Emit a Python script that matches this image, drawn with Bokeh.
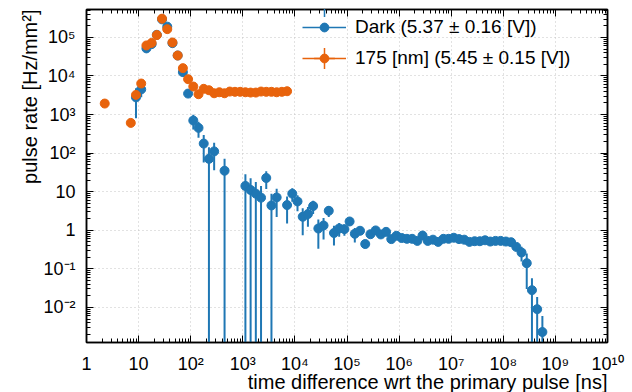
import numpy as np
from bokeh.plotting import figure
from bokeh.models import (Range1d, FixedTicker, CustomJSTickFormatter, LogAxis,
                          Legend, LegendItem, Title, ColumnDataSource)
from bokeh.embed import file_html
from bokeh.resources import INLINE

# ---------------- data (log10 of bin centre in ns, rate in Hz/mm^2) ----------------
dark_log_t = [0.95, 1.05, 1.15, 1.25, 1.35, 1.45, 1.55, 1.65, 1.75, 1.85, 1.95,
              2.05, 2.15, 2.25, 2.35, 2.45, 2.65,
              3.05, 3.15, 3.25, 3.35, 3.45, 3.55, 3.65, 3.85, 3.95,
              4.05, 4.15, 4.25, 4.35, 4.45, 4.55, 4.65, 4.75, 4.85, 4.95,
              5.05, 5.15, 5.25, 5.35, 5.45, 5.55, 5.65, 5.75, 5.85, 5.95,
              6.05, 6.15, 6.25, 6.35, 6.45, 6.55, 6.65, 6.75, 6.85, 6.95,
              7.05, 7.15, 7.25, 7.35, 7.45, 7.55, 7.65, 7.75, 7.85, 7.95,
              8.05, 8.15, 8.25, 8.35, 8.45, 8.55, 8.65, 8.75]
dark_rate = [2800, 4500, 5.2e4, 6.7e4, 1.17e5, 2.94e5, 1.9e5, 7.1e4, 3.4e4, 1.26e4, 3500,
             700, 452, 177, 71, 111, 35,
             14.1, 11.1, 8.9, 7.0, 22.7, 4.4, 7.1, 4.5, 8.9,
             5.6, 2.24, 2.63, 4.25, 1.11, 1.33, 3.2, 0.85, 1.11, 1.07,
             1.69, 0.81, 0.97, 0.44, 0.79, 0.99, 0.78, 0.91, 0.59, 0.72,
             0.63, 0.60, 0.60, 0.53, 0.73, 0.53, 0.57, 0.50, 0.60, 0.60,
             0.64, 0.59, 0.57, 0.50, 0.52, 0.52, 0.55, 0.51, 0.53, 0.53,
             0.51, 0.49, 0.37, 0.265, 0.14, 0.028, 0.009, 0.0023]
dark_err = [2000, 1700, 3000, 3000, 4000, 6000, 5000, 3000, 2000, 1200, 600,
            290, 200, 120, 72, 75, 36,
            14.3, 11.2, 9.0, 7.1, 11, 4.5, 4.9, 3.0, 3.4,
            2.5, 1.5, 1.4, 1.6, 0.78, 0.75, 1.0, 0.45, 0.43, 0.35,
            0.35, 0.33, 0.2, 0.1, 0.1, 0.1, 0.08, 0.08, 0.06, 0.05,
            0.04, 0.04, 0.04, 0.04, 0.04, 0.04, 0.04, 0.04, 0.04, 0.04,
            0.04, 0.04, 0.04, 0.04, 0.04, 0.04, 0.04, 0.04, 0.04, 0.04,
            0.04, 0.04, 0.07, 0.11, 0.11, 0.029, 0.0095, 0.0037]

uv_log_t = [0.35, 0.85, 0.95, 1.05, 1.15, 1.25, 1.35, 1.45, 1.55, 1.65, 1.75, 1.85, 1.95,
            2.05, 2.15, 2.25, 2.35, 2.45, 2.55, 2.65, 2.75, 2.85, 2.95,
            3.05, 3.15, 3.25, 3.35, 3.45, 3.55, 3.65, 3.75, 3.85]
uv_rate = [1930, 608, 3240, 6380, 6.2e4, 7.2e4, 1.15e5, 3.06e5, 1.64e5, 7.4e4, 3.4e4, 1.6e4, 8270,
           5330, 3370, 4650, 4280, 3570, 3790, 3570, 3950, 3890, 3890,
           3790, 3720, 3720, 3950, 3890, 3890, 3790, 3890, 4030]
uv_err = [150, 80, 300, 500, 2000, 2000, 3000, 5000, 4000, 2500, 1500, 800, 400,
          300, 200, 250, 220, 180, 190, 180, 200, 190, 190,
          190, 180, 180, 190, 190, 190, 180, 190, 190]

labels = ["Dark (5.37 \u00b1 0.16 [V])", "175 [nm] (5.45 \u00b1 0.15 [V])"]
x_title = "time difference wrt the primary pulse [ns]"
y_title = "pulse rate [Hz/mm\u00b2]"

x_major = [10.0 ** k for k in range(0, 11)]
x_minor = [m * 10.0 ** k for k in range(0, 10) for m in range(2, 10)]
y_major = [10.0 ** k for k in range(-2, 6)]
y_minor = [m * 10.0 ** k for k in range(-3, 6) for m in range(2, 10)]

BLUE = "#1f77b4"
ORANGE = "#e8630c"
FONT = "Liberation Sans"


def make_src(log_t, rate, err):
    t = 10.0 ** np.asarray(log_t)
    v = np.asarray(rate, dtype=float)
    e = np.asarray(err, dtype=float)
    lo = np.clip(v - e, 1e-9, None)
    hi = v + e
    return ColumnDataSource(dict(t=t, v=v, lo=lo, hi=hi))


p = figure(width=628, height=400, x_axis_type="log", y_axis_type="log",
           x_range=Range1d(1, 1e10), y_range=Range1d(1.23e-3, 5.3e5),
           output_backend="svg", toolbar_location=None,
           min_border_left=86, min_border_right=21, min_border_top=9, min_border_bottom=58)
p.background_fill_color = "white"
p.border_fill_color = "white"
p.outline_line_color = "black"
p.outline_line_width = 1.5

fmt = CustomJSTickFormatter(code="""
const e = Math.round(Math.log10(tick));
if (e == 0) return "1";
if (e == 1) return "10";
const sup = {"-":"\u207b","0":"\u2070","1":"\u00b9","2":"\u00b2","3":"\u00b3","4":"\u2074",
             "5":"\u2075","6":"\u2076","7":"\u2077","8":"\u2078","9":"\u2079"};
return "10" + String(e).split("").map(c => sup[c]).join("");
""")

xt = FixedTicker(ticks=x_major, minor_ticks=x_minor)
yt = FixedTicker(ticks=y_major, minor_ticks=y_minor)


def style_axis(ax, labels_on=True):
    ax.axis_line_color = "black"
    ax.axis_line_width = 1.5
    ax.major_tick_in = 7
    ax.major_tick_out = 0
    ax.minor_tick_in = 4
    ax.minor_tick_out = 0
    ax.major_tick_line_color = "black"
    ax.minor_tick_line_color = "black"
    if labels_on:
        ax.major_label_text_font = FONT
        ax.major_label_text_font_size = "18px"
        ax.major_label_text_color = "black"
        ax.major_label_standoff = 11
    else:
        ax.major_label_text_font_size = "1px"
        ax.major_label_text_color = None
        ax.major_label_standoff = 0


p.xaxis.ticker = xt
p.yaxis.ticker = yt
p.xaxis.formatter = fmt
p.yaxis.formatter = fmt
style_axis(p.xaxis[0])
style_axis(p.yaxis[0])

top_ax = LogAxis(ticker=FixedTicker(ticks=x_major, minor_ticks=x_minor))
style_axis(top_ax, labels_on=False)
p.add_layout(top_ax, "above")
right_ax = LogAxis(ticker=FixedTicker(ticks=y_major, minor_ticks=y_minor))
style_axis(right_ax, labels_on=False)
p.add_layout(right_ax, "right")

for g in (p.xgrid[0], p.ygrid[0]):
    g.grid_line_color = "#c4c4c4"
    g.grid_line_dash = "1 3"
    g.grid_line_width = 1
p.xgrid.ticker = xt
p.ygrid.ticker = yt

# data
dark = make_src(dark_log_t, dark_rate, dark_err)
uv = make_src(uv_log_t, uv_rate, uv_err)

# invisible helpers used only for the legend glyphs (line + vertical bar)
ld_dark = p.line(x="t", y="v", source=dark, line_color=BLUE, line_width=1.5, visible=False)
ld_uv = p.line(x="t", y="v", source=uv, line_color=ORANGE, line_width=1.5, visible=False)
lc_dark = p.scatter(x="t", y="v", source=dark, marker="cross", line_color=BLUE,
                    line_width=1.5, visible=False)
lc_uv = p.scatter(x="t", y="v", source=uv, marker="cross", line_color=ORANGE,
                  line_width=1.5, visible=False)

p.segment(x0="t", y0="lo", x1="t", y1="hi", source=dark, line_color=BLUE, line_width=2)
r_dark = p.scatter(x="t", y="v", source=dark, size=9, marker="circle",
                   fill_color=BLUE, line_color=BLUE)
p.segment(x0="t", y0="lo", x1="t", y1="hi", source=uv, line_color=ORANGE, line_width=2)
r_uv = p.scatter(x="t", y="v", source=uv, size=9, marker="circle",
                 fill_color=ORANGE, line_color=ORANGE)

legend_bars = Legend(items=[LegendItem(label=" ", renderers=[lc_dark]),
                            LegendItem(label=" ", renderers=[lc_uv])],
                     location=(212, 258), glyph_width=52, glyph_height=52,
                     label_height=52, label_width=1, label_standoff=0,
                     spacing=-21, padding=0, margin=0,
                     border_line_color=None, background_fill_alpha=0)
legend_bars.label_text_font_size = "2px"
p.add_layout(legend_bars)

legend = Legend(items=[LegendItem(label=labels[0], renderers=[ld_dark, r_dark]),
                       LegendItem(label=labels[1], renderers=[ld_uv, r_uv])],
                location=(216, 273), glyph_width=44, glyph_height=22,
                label_height=22, label_standoff=9, spacing=9, padding=0, margin=0,
                border_line_color=None, background_fill_alpha=0)
legend.label_text_font = FONT
legend.label_text_font_size = "19px"
legend.label_text_color = "black"
p.add_layout(legend)

xt_title = Title(text=x_title, align="right", text_font=FONT, text_font_size="20px",
                 text_font_style="normal", text_color="black", standoff=-16, offset=0)
p.add_layout(xt_title, "below")
yt_title = Title(text=y_title, align="right", text_font=FONT, text_font_size="20px",
                 text_font_style="normal", text_color="black", standoff=0, offset=0)
p.add_layout(yt_title, "left")

open("out.html", "w").write(file_html(p, INLINE))
